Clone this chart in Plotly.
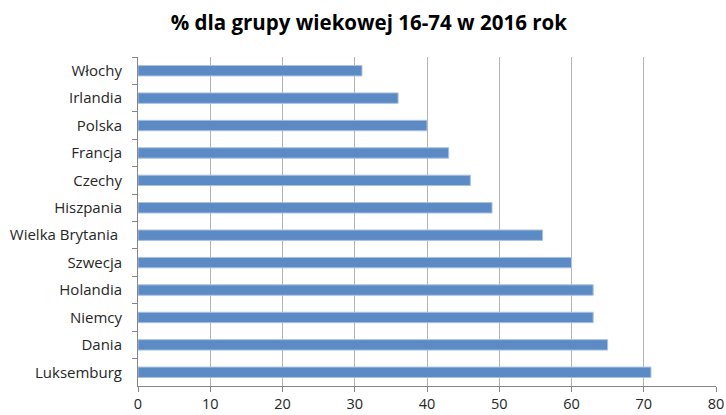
import plotly.graph_objects as go

countries = ["Włochy", "Irlandia", "Polska", "Francja", "Czechy", "Hiszpania",
             "Wielka Brytania ", "Szwecja", "Holandia", "Niemcy", "Dania", "Luksemburg"]
values = [31, 36, 40, 43, 46, 49, 56, 60, 63, 63, 65, 71]
x_ticks = [0, 10, 20, 30, 40, 50, 60, 70, 80]
title_text = "% dla grupy wiekowej 16-74 w 2016 rok"

fig = go.Figure(go.Bar(
    x=values, y=countries, orientation="h",
    marker=dict(color="#5B8AC5", line=dict(color="#A9C1E2", width=1)),
    width=0.38,
))

fig.update_layout(
    width=726, height=415,
    margin=dict(l=138, r=10, t=57, b=29),
    paper_bgcolor="white", plot_bgcolor="white",
    showlegend=False,
    title=dict(text=title_text, x=0.508, xanchor="center", y=0.945, yanchor="middle",
               font=dict(family="Open Sans", size=20.5, color="#000000", weight="bold")),
    font=dict(family="Open Sans", size=15, color="#262626"),
)

fig.update_xaxes(
    range=[0, 80], tickvals=x_ticks, ticktext=[str(v) for v in x_ticks],
    tickfont=dict(size=14.5),
    showgrid=True, gridcolor="#B3B3B3", gridwidth=1,
    showline=True, linecolor="#868686", linewidth=1,
    ticks="outside", ticklen=5, tickcolor="#868686",
    ticklabelstandoff=0,
    zeroline=False, fixedrange=True, automargin=False,
)
fig.update_yaxes(
    categoryorder="array", categoryarray=countries, autorange="reversed",
    showgrid=False, showline=True, linecolor="#868686", linewidth=1,
    ticks="outside", ticklen=5, tickcolor="#868686", tickson="boundaries",
    ticklabelstandoff=12, fixedrange=True, automargin=False,
)

fig.write_html("out.html", config={"displayModeBar": False},
               post_script="document.body.style.margin='0';")
